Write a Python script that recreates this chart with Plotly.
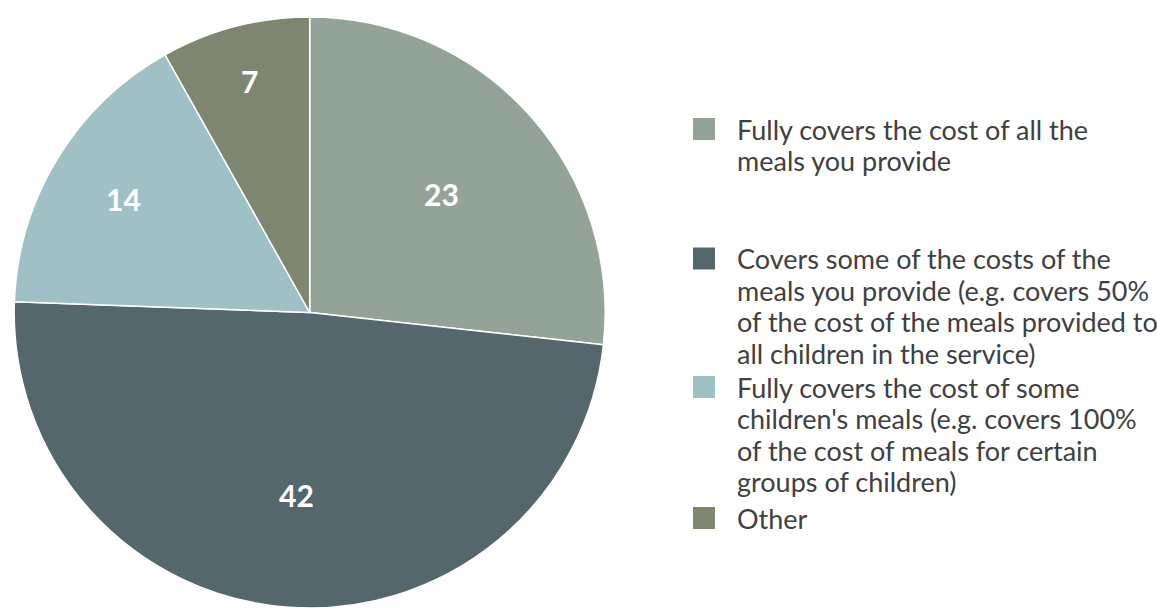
import math
import plotly.graph_objects as go

# Share of providers by how the funding covers meal costs
categories = [
    "Fully covers the cost of all the meals you provide",
    "Covers some of the costs of the meals you provide (e.g. covers 50% of the cost of the meals provided to all children in the service)",
    "Fully covers the cost of some children's meals (e.g. covers 100% of the cost of meals for certain groups of children)",
    "Other",
]
legend_lines = [
    ["Fully covers the cost of all the", "meals you provide"],
    ["Covers some of the costs of the", "meals you provide (e.g. covers 50%",
     "of the cost of the meals provided to", "all children in the service)"],
    ["Fully covers the cost of some", "children's meals (e.g. covers 100%",
     "of the cost of meals for certain", "groups of children)"],
    ["Other"],
]
values = [23, 42, 14, 7]
colors = ["#94A397", "#54676D", "#9FC1C6", "#7E8670"]

W, H = 1157, 608
FONT = "Lato, 'Open Sans', sans-serif"

# pie geometry (pixels)
PIE_LEFT, PIE_RIGHT, PIE_TOP = 12.7, 606.7, 17
cx = (PIE_LEFT + PIE_RIGHT) / 2
cy = (PIE_TOP + H) / 2
R = min(PIE_RIGHT - PIE_LEFT, H - PIE_TOP) / 2

fig = go.Figure(
    go.Pie(
        labels=categories,
        values=values,
        sort=False,
        direction="clockwise",
        rotation=0,
        marker=dict(colors=colors, line=dict(color="white", width=1.5)),
        textinfo="none",
        domain=dict(x=[PIE_LEFT / W, PIE_RIGHT / W], y=[0, 1 - PIE_TOP / H]),
        showlegend=False,
        hoverinfo="label+value",
    )
)

annotations, shapes = [], []

# value labels placed along each slice's bisector
label_depth = [0.60, 0.62, 0.74, 0.81]
total = sum(values)
start = 0.0
for v, depth in zip(values, label_depth):
    mid = (start + v / 2) / total * 2 * math.pi
    start += v
    px = cx + depth * R * math.sin(mid)
    py = cy - depth * R * math.cos(mid)
    annotations.append(
        dict(
            text=str(v), xref="paper", yref="paper",
            x=px / W, y=1 - py / H, xanchor="center", yanchor="middle",
            showarrow=False,
            font=dict(family=FONT, size=30, color="white", weight="bold"),
        )
    )

# legend: coloured squares with wrapped text beside them
item_centers = [129, 258.5, 387, 518]
LINE_PITCH = 31.5
SQ = 22
for lines, color, yc in zip(legend_lines, colors, item_centers):
    shapes.append(
        dict(
            type="rect", xref="paper", yref="paper",
            x0=693 / W, x1=(693 + SQ) / W,
            y0=1 - (yc + SQ / 2) / H, y1=1 - (yc - SQ / 2) / H,
            fillcolor=color, line=dict(width=0),
        )
    )
    for j, line in enumerate(lines):
        annotations.append(
            dict(
                text=line, xref="paper", yref="paper",
                x=735 / W, y=1 - (yc + j * LINE_PITCH) / H,
                xanchor="left", yanchor="middle", align="left",
                showarrow=False,
                font=dict(family=FONT, size=27, color="#404040"),
            )
        )

fig.update_layout(
    width=W, height=H,
    margin=dict(l=0, r=0, t=0, b=0),
    paper_bgcolor="white", plot_bgcolor="white",
    shapes=shapes, annotations=annotations,
)

fig.write_html("out.html")
